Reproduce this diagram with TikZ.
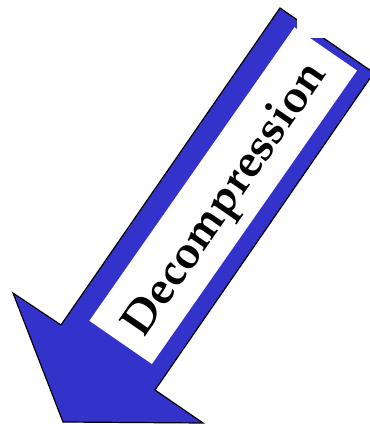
\documentclass[tikz,border=0pt]{standalone}
\usepackage[T1]{fontenc}
\usepackage{mathpazo}
\usepackage{xcolor}
\usepackage{tikz}
\usetikzlibrary{calc}
\definecolor{azul}{HTML}{3333CC}
\tikzset{
  flechazul/.style={draw=black, fill=azul, line width=1.2pt, line join=miter},
  caja/.style={fill=white, draw=none},
  rotulo/.style={font=\fontsize{45.5}{45.5}\selectfont\bfseries, text=black, rotate=55.4, inner sep=0pt},
}

\begin{document}
\begin{tikzpicture}[x=1pt, y=1pt]
  \clip (0,0) rectangle (370,424);
  \useasboundingbox (0,0) rectangle (370,424);
  % flecha
  \coordinate (cola1) at (280,416);
  \coordinate (cola2) at (373.8,351.2);
  \coordinate (der) at (155,34);
  \coordinate (pder) at (203,1);
  \coordinate (punta) at (63,2);
  \coordinate (pizq) at (13,131);
  \coordinate (izq) at (61,99);
  \draw[flechazul] (cola1) -- (cola2) -- (der) -- (pder) -- (punta) -- (pizq) -- (izq) -- cycle;
  % caja blanca
  \fill[caja] (89.4,103.2) -- (151.9,60) -- (357,353.5) -- (294.5,396.7) -- cycle;
  \node[rotulo] (txt) at (227,223) {Decompression};
  % recorte arriba
  \fill[caja] (297,386) rectangle (370,424);
\end{tikzpicture}
\end{document}
